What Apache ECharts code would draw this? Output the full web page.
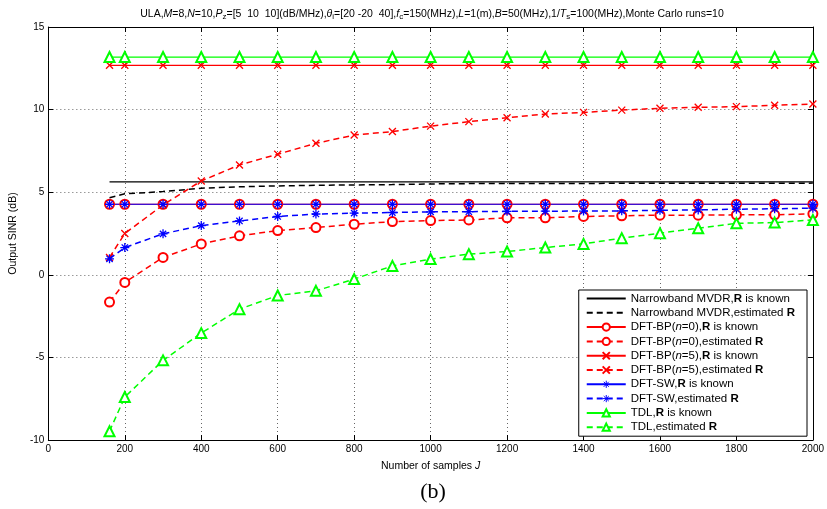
<!DOCTYPE html>
<html>
<head>
<meta charset="utf-8">
<script src="https://cdn.jsdelivr.net/npm/echarts@6/dist/echarts.min.js"></script>
<style>
html,body{margin:0;padding:0;background:#fff;}
#c{width:827px;height:509px;}
</style>
</head>
<body>
<div id="c"></div>
<script>
// ---- data ----
var samples = [160,200,300,400,500,600,700,800,900,1000,1100,1200,1300,1400,1500,1600,1700,1800,1900,2000];
var mvdrKnown = [5.63,5.63,5.63,5.63,5.63,5.63,5.63,5.63,5.63,5.63,5.63,5.63,5.63,5.63,5.63,5.63,5.63,5.63,5.63,5.63];
var mvdrEst   = [4.67,4.90,5.04,5.24,5.33,5.38,5.42,5.44,5.46,5.50,5.52,5.52,5.53,5.53,5.54,5.54,5.54,5.54,5.54,5.55];
var bp0Known  = [4.27,4.27,4.27,4.27,4.27,4.27,4.27,4.27,4.27,4.27,4.27,4.27,4.27,4.27,4.27,4.27,4.27,4.27,4.27,4.27];
var bp0Est    = [-1.65,-0.46,1.05,1.87,2.36,2.68,2.86,3.06,3.22,3.28,3.32,3.45,3.45,3.53,3.57,3.61,3.61,3.63,3.63,3.69];
var bp5Known  = [12.68,12.68,12.68,12.68,12.68,12.68,12.68,12.68,12.68,12.68,12.68,12.68,12.68,12.68,12.68,12.68,12.68,12.68,12.68,12.68];
var bp5Est    = [1.05,2.50,4.23,5.68,6.65,7.30,7.96,8.46,8.67,9.00,9.27,9.51,9.73,9.83,9.97,10.08,10.14,10.18,10.26,10.34];
var swKnown   = [4.27,4.27,4.27,4.27,4.27,4.27,4.27,4.27,4.27,4.27,4.27,4.27,4.27,4.27,4.27,4.27,4.27,4.27,4.27,4.27];
var swEst     = [0.97,1.65,2.48,2.98,3.26,3.53,3.68,3.73,3.77,3.81,3.82,3.84,3.85,3.86,3.87,3.90,3.93,3.97,4.00,4.03];
var tdlKnown  = [13.18,13.18,13.18,13.18,13.18,13.18,13.18,13.18,13.18,13.18,13.18,13.18,13.18,13.18,13.18,13.18,13.18,13.18,13.18,13.18];
var tdlEst    = [-9.47,-7.40,-5.18,-3.53,-2.08,-1.25,-0.97,-0.26,0.54,0.95,1.25,1.41,1.65,1.87,2.22,2.52,2.82,3.12,3.16,3.32];

var seriesNames = [
  'Narrowband MVDR,R is known','Narrowband MVDR,estimated R',
  'DFT-BP(n=0),R is known','DFT-BP(n=0),estimated R',
  'DFT-BP(n=5),R is known','DFT-BP(n=5),estimated R',
  'DFT-SW,R is known','DFT-SW,estimated R',
  'TDL,R is known','TDL,estimated R'
];
var legendRich = {
  'Narrowband MVDR,R is known':'Narrowband MVDR,{b|R} is known',
  'Narrowband MVDR,estimated R':'Narrowband MVDR,estimated {b|R}',
  'DFT-BP(n=0),R is known':'DFT-BP({i|n}=0),{b|R} is known',
  'DFT-BP(n=0),estimated R':'DFT-BP({i|n}=0),estimated {b|R}',
  'DFT-BP(n=5),R is known':'DFT-BP({i|n}=5),{b|R} is known',
  'DFT-BP(n=5),estimated R':'DFT-BP({i|n}=5),estimated {b|R}',
  'DFT-SW,R is known':'DFT-SW,{b|R} is known',
  'DFT-SW,estimated R':'DFT-SW,estimated {b|R}',
  'TDL,R is known':'TDL,{b|R} is known',
  'TDL,estimated R':'TDL,estimated {b|R}'
};

var FONT = 'Liberation Sans';
var xMark = 'path://M0,0L10,10M10,0L0,10';
var star = 'path://M5,0L5,10M0,5L10,5M1.5,1.5L8.5,8.5M8.5,1.5L1.5,8.5';
var DASH = [6,4];
var GREEN = '#00ff00';

function pairs(ys){ return samples.map(function(x,i){ return [x, ys[i]]; }); }
function mk(name, ys, color, dashed, symbol, size, pathSym){
  return {
    name: name, type: 'line', data: pairs(ys),
    symbol: symbol || 'none', symbolSize: size || 0, showSymbol: !!symbol,
    lineStyle: {color: color, width: dashed ? 1.5 : 1.2, type: dashed ? DASH : 'solid'},
    itemStyle: pathSym ? {color: color, borderColor: color, borderWidth: 1.3} : {color: color, borderWidth: 1.2},
    emphasis: {disabled: true}, silent: true, z: 3
  };
}

var series = [
  mk(seriesNames[0], mvdrKnown, '#000000', false),
  mk(seriesNames[1], mvdrEst, '#000000', true),
  mk(seriesNames[2], bp0Known, '#ff0000', false, 'emptyCircle', 9),
  mk(seriesNames[3], bp0Est, '#ff0000', true, 'emptyCircle', 9),
  mk(seriesNames[4], bp5Known, '#ff0000', false, xMark, 7, true),
  mk(seriesNames[5], bp5Est, '#ff0000', true, xMark, 7, true),
  mk(seriesNames[6], swKnown, '#0000ff', false, star, 9, true),
  mk(seriesNames[7], swEst, '#0000ff', true, star, 9, true),
  mk(seriesNames[8], tdlKnown, GREEN, false, 'emptyTriangle', 10),
  mk(seriesNames[9], tdlEst, GREEN, true, 'emptyTriangle', 10)
];

var legendData = seriesNames.map(function(n, i){
  if (i < 2) return {name: n, itemStyle: {color: 'rgba(0,0,0,0)', borderColor: 'rgba(0,0,0,0)', borderWidth: 0}};
  if (i === 6 || i === 7) return {name: n, itemStyle: {borderWidth: 1}};
  return {name: n};
});

var axisCommon = {
  axisLine: {show: true, onZero: false, lineStyle: {color: '#000', width: 1}},
  axisTick: {show: true, inside: true, length: 5, lineStyle: {color: '#000'}},
  splitLine: {show: true, lineStyle: {color: '#666', type: [1,3], width: 1}}
};

var chart = echarts.init(document.getElementById('c'), null, {renderer: 'canvas'});
chart.setOption({
  animation: false,
  backgroundColor: '#fff',
  textStyle: {fontFamily: FONT},
  title: [{
    text: 'ULA,{i|M}=8,{i|N}=10,{i|P}{s|z}=[5  10  10](dB/MHz),{i|θ}{s|i}=[20 -20  40],{i|f}{s|c}=150(MHz),{i|L}=1(m),{i|B}=50(MHz),1/{i|T}{s|s}=100(MHz),Monte Carlo runs=10',
    left: 427, top: 2, textAlign: 'center',
    textStyle: {
      fontFamily: FONT, fontSize: 10.5, fontWeight: 'normal', color: '#000', lineHeight: 14,
      rich: {
        i: {fontStyle: 'italic', fontSize: 10.5, fontFamily: FONT, lineHeight: 14},
        s: {fontSize: 8, fontFamily: FONT, lineHeight: 4, verticalAlign: 'bottom'}
      }
    }
  },{
    text: '(b)', left: 428, top: 476, textAlign: 'center',
    textStyle: {fontFamily: 'Liberation Serif', fontSize: 22, fontWeight: 'normal', color: '#000'}
  }],
  grid: {left: 44, right: 14, top: 27, bottom: 69, show: false},
  legend: {
    data: legendData,
    orient: 'vertical',
    right: 20, top: 290,
    itemWidth: 39, itemHeight: 9, itemGap: 2.3,
    padding: [2.5, 12, 3, 7],
    backgroundColor: '#fff',
    borderColor: '#000', borderWidth: 1, borderRadius: 0,
    selectedMode: false,
    formatter: function(n){ return legendRich[n]; },
    textStyle: {
      fontFamily: FONT, fontSize: 11.5, color: '#000', lineHeight: 12,
      rich: {
        b: {fontWeight: 'bold', fontFamily: FONT, fontSize: 11.5, lineHeight: 12},
        i: {fontStyle: 'italic', fontFamily: FONT, fontSize: 11.5, lineHeight: 12}
      }
    }
  },
  xAxis: [Object.assign({
    type: 'value', min: 0, max: 2000, interval: 200, position: 'bottom',
    name: 'Number of samples {i|J}', nameLocation: 'middle', nameGap: 21,
    nameTextStyle: {fontFamily: FONT, fontSize: 10.5, color: '#000',
      rich: {i: {fontStyle: 'italic', fontFamily: FONT, fontSize: 10.5}}},
    axisLabel: {color: '#000', fontSize: 10, fontFamily: FONT, margin: 4,
      formatter: function(v){ return String(v); }}
  }, axisCommon), {
    type: 'value', min: 0, max: 2000, interval: 200, position: 'top',
    axisLine: {show: true, onZero: false, lineStyle: {color: '#000'}},
    axisTick: {show: true, inside: true, length: 5, lineStyle: {color: '#000'}},
    axisLabel: {show: false}, splitLine: {show: false}
  }],
  yAxis: [Object.assign({
    type: 'value', min: -10, max: 15, interval: 5, position: 'left',
    name: 'Output SINR (dB)', nameLocation: 'middle', nameGap: 27, nameRotate: 90,
    nameTextStyle: {fontFamily: FONT, fontSize: 10.5, color: '#000'},
    axisLabel: {color: '#000', fontSize: 10, fontFamily: FONT, margin: 4}
  }, axisCommon), {
    type: 'value', min: -10, max: 15, interval: 5, position: 'right',
    axisLine: {show: true, onZero: false, lineStyle: {color: '#000'}},
    axisTick: {show: true, inside: true, length: 5, lineStyle: {color: '#000'}},
    axisLabel: {show: false}, splitLine: {show: false}
  }],
  series: series
});
</script>
</body>
</html>
